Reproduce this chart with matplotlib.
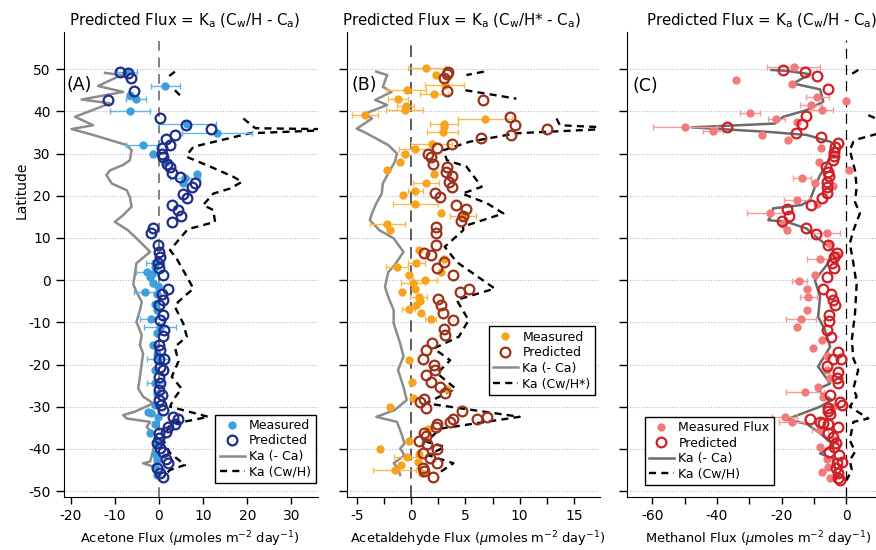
"""
Three-panel latitude profiles of measured vs predicted air-sea fluxes
(acetone, acetaldehyde, methanol).
"""
import numpy as np
import matplotlib
matplotlib.use("Agg")
import matplotlib.pyplot as plt
from matplotlib.ticker import MultipleLocator

plt.rcParams["axes.unicode_minus"] = False

nan = np.nan

# --------------------------------------------------------------------
# Panel A - acetone
# --------------------------------------------------------------------
A_meas_lat = [49.4, 46.0, 43.8, 42.9, 40.0, 37.0, 34.9, 32.0, 30.0, 28.0, 25.1, 24.1, 22.9,
              4.0, 3.0, 2.0, 1.5, 0.8, -0.8, -1.5, -2.8, -3.2, -5.6, -7.1, -9.1, -11.0, -12.6,
              -15.4, -17.4, -18.6, -21.3, -24.5, -26.9, -29.6, -31.2, -31.6, -32.4, -34.0,
              -36.3, -38.7, -41.1, -42.7, -44.2, -46.2]
A_meas_x = [-7.3, 1.4, -6.6, -5.2, -6.6, 6.3, 13.1, -3.7, -1.4, 1.7, 8.5, 5.9, 5.4,
            -0.9, -1.0, -2.8, -1.5, -2.0, -1.3, -0.3, -3.2, -0.5, -0.9, -0.5, -1.7, 0.2, -0.5,
            -1.3, -0.5, -0.2, -0.9, -0.9, -0.5, -0.9, -2.4, -1.7, -0.2, -0.9,
            -2.0, -0.5, -0.9, -0.5, -0.9, -0.5]
A_meas_err = [2.3, 3.3, 0, 2.3, 4.5, 6.5, 8.0, 3.8, 0, 1.0, 0, 3.4, 0,
              2.0, 0, 2.3, 0, 0, 0, 0, 2.5, 0, 0, 0, 2.5, 3.7, 0,
              0, 0, 2.5, 0, 1.7, 0, 0, 0, 0, 0, 0,
              0, 0, 0, 0, 0, 0]
A_pred_lat = [49.4, 49.0, 47.8, 44.8, 42.8, 38.5, 36.7, 35.9, 34.4, 33.4, 32.0, 31.2, 30.0,
              29.1, 27.6, 26.9, 25.4, 24.5, 23.1, 22.1, 20.5, 19.5, 17.8, 16.6, 15.2, 13.8,
              12.4, 11.1, 8.3, 6.7, 5.5, 4.0, 2.8, 1.2, -2.0, -3.2, -4.7, -5.9, -8.3, -9.5,
              -11.8, -13.3, -15.4, -16.6, -18.6, -18.6, -20.5, -21.3, -22.9, -24.5, -26.0,
              -27.3, -28.4, -29.6, -30.8, -32.4, -33.0, -34.0, -34.8, -36.0, -36.3, -37.5,
              -38.7, -39.9, -40.7, -42.3, -43.4, -44.6, -45.8, -46.6]
A_pred_x = [-8.8, -7.1, -6.4, -5.7, -11.5, 0.2, 6.1, 11.8, 3.6, 1.7, 2.5, 0.6, 0.6,
            1.0, 1.9, 2.5, 2.9, 4.8, 8.2, 7.4, 5.4, 6.4, 2.9, 4.2, 4.9, 2.9,
            -1.4, -1.7, -0.3, 0.0, 0.2, -0.2, 0.0, 1.0, 2.1, 0.6, 1.0, 0.0, 1.0, 0.2,
            1.1, 1.0, 0.0, 0.2, 0.0, 1.2, 0.2, 1.0, 0.0, 0.2, 0.0,
            0.6, 0.0, 0.4, 1.0, 3.2, 4.4, 3.6, 2.1, 1.7, 0.0, 0.0,
            -0.4, 0.2, 0.8, 1.7, 2.1, -0.5, 0.2, 1.0]
A_ca_lat = [49.1, 48.6, 46.0, 44.6, 42.8, 41.9, 38.7, 36.7, 35.8, 34.4, 32.0, 30.8, 28.4,
            27.3, 26.0, 24.9, 22.9, 21.3, 19.7, 17.4, 15.4, 13.8, 11.8, 9.1, 6.7, 4.0, -1.0,
            -2.8, -5.1, -7.1, -9.9, -13.0, -15.4, -17.4, -19.7, -22.9, -25.7, -27.6, -29.2,
            -31.2, -32.0, -32.8, -33.6, -34.8, -37.2, -38.7, -43.0, -43.4, -44.2, -46.2]
A_ca_x = [-12.2, -8.5, -13.8, -8.1, -17.5, -11.1, -19.0, -14.9, -19.8, -14.9, -7.3, -6.2, -6.6,
          -8.1, -11.1, -11.9, -10.7, -7.3, -6.6, -6.2, -8.1, -10.0, -7.0, -4.3, -2.0, -5.1, -5.8,
          -5.1, -3.9, -4.3, -5.1, -3.9, -4.3, -3.6, -3.9, -4.3, -4.7, -3.6, -1.3,
          -5.5, -8.1, -7.3, -2.0, -2.8, -0.5, -0.9, -2.0, -3.6, -1.3, -0.5]
A_cw_lat = [49.4, 48.2, nan, 45.0, 43.0, nan, 38.3, 36.0, 35.7, 34.8, 31.6, 30.0, 29.2, 26.9,
            24.5, 23.3, 21.7, 20.5, 17.8, 16.6, 13.8, 12.2, 11.8, 7.1, 5.1, -2.0, -5.1, -6.3,
            -10.3, -13.4, -15.8, -19.3, -22.9, -25.7, -28.4, -30.0, -32.4, -33.6, -34.0,
            -37.9, -39.5, -41.0, -43.8, -45.0, -46.6]
A_cw_x = [3.6, 2.1, nan, 3.6, 5.5, nan, 19.1, 21.8, 42.0, 20.6, 7.8, 6.6, 6.3, 11.6,
          16.8, 18.8, 16.1, 12.3, 10.0, 12.3, 12.7, 7.0, 6.3, 2.5, 4.0, 7.8, 4.4, 3.6,
          5.5, 6.3, 3.6, 4.4, 2.9, 5.1, 3.2, 2.5, 11.2, 5.5, 2.5,
          1.0, 1.7, 2.5, 5.9, 2.5, 1.0]

# --------------------------------------------------------------------
# Panel B - acetaldehyde
# --------------------------------------------------------------------
B_meas_lat = [50.2, 48.6, 46.2, 45.0, 44.2, 43.0, 41.2, 40.3, 39.1, 38.1, 37.1, 36.2, 35.2,
              32.2, 31.0, 30.0, 28.0, 26.2, 25.1, 23.1, 21.1, 20.1, 18.0, 16.0, 15.2, 13.3,
              11.8, 7.1, 4.9, 4.1, 3.2, 1.9, 1.2, 0.0, -0.8, -2.0, -2.9, -4.0, -4.9, -5.9,
              -6.9, -7.9, -9.1, -19.0, -24.1, -25.9, -28.0, -30.0, -35.2, -38.1, -40.0,
              -41.1, -41.9, -43.0, -43.8, -45.0, -45.8]
B_meas_x = [1.4, 2.3, 3.1, -0.4, 2.1, -1.2, -0.5, -0.6, -4.2, 6.8, 3.0, 3.0, 2.9,
            1.9, 0.4, -0.6, -1.0, -2.2, 2.1, 1.4, 0.4, -0.7, 0.4, 2.8, 4.8, -2.2,
            -1.9, 0.7, 3.0, 0.5, -1.3, 2.8, -0.2, 1.3, 0.2, 0.4, -0.8, 0.7, 0.8, 0.5,
            -0.2, 0.9, 1.8, -0.2, 0.1, 3.3, 0.2, -1.9, 1.6, -0.2, -2.9,
            0.7, -0.4, 0.6, -0.9, -1.5, 1.0]
B_meas_err = [1.7, 0, 1.8, 1.8, 1.3, 0.9, 0.8, 1.7, 1.2, 2.5, 1.3, 0, 1.4,
              1.9, 1.5, 0, 0, 0, 0, 1.2, 0.7, 0, 2.1, 0, 1.2, 1.6,
              0, 0, 0, 0.8, 1.0, 0, 0, 1.1, 1.1, 0, 0, 0.8, 0, 0,
              0.6, 0, 0.5, 0, 0, 0, 0, 0, 0, 0, 0,
              0, 1.2, 0, 0, 2.0, 0]
B_pred_lat = [49.4, 48.8, 47.8, 44.8, 42.8, 38.7, 36.7, 35.9, 34.4, 33.6, 32.2, 31.2, 29.9,
              29.1, 27.6, 26.9, 25.7, 24.6, 23.3, 22.1, 20.7, 19.6, 17.8, 16.8, 15.2, 14.0,
              12.5, 11.1, 8.3, 6.5, 5.9, 4.2, 2.9, 1.2, -2.0, -2.8, -4.5, -5.9, -7.9, -9.5,
              -11.7, -13.0, -15.0, -16.6, -18.6, -20.0, -21.2, -22.5, -24.1, -25.4, -26.7,
              -28.2, -29.0, -30.2, -31.0, -32.4, -33.0, -33.0, -33.6, -34.0, -34.9, -36.2,
              -36.9, -38.1, -38.9, -40.1, -40.9, -42.1, -43.3, -44.5, -45.3, -46.6]
B_pred_x = [3.4, 3.3, 3.0, 3.3, 6.6, 9.1, 9.6, 12.5, 9.2, 6.4, 3.8, 2.4, 1.6,
            1.8, 2.0, 3.3, 3.2, 3.8, 3.5, 3.8, 2.2, 2.7, 4.1, 5.1, 4.8, 4.6,
            2.3, 2.3, 2.3, 1.2, 1.8, 3.0, 2.4, 3.9, 5.3, 4.5, 2.5, 2.8, 2.9, 3.9,
            3.0, 3.1, 1.9, 1.4, 1.1, 2.1, 2.2, 1.4, 1.8, 2.7, 3.1,
            1.2, 0.8, 1.4, 4.7, 7.0, 6.1, 3.9, 3.6, 2.4, 2.3, 1.2,
            1.4, 0.7, 1.5, 2.4, 1.1, 1.7, 2.4, 1.1, 1.2, 2.0]
B_ca_lat = [49.4, 48.6, 45.8, 44.6, 42.7, 41.5, 39.5, 38.3, 35.9, 34.8, 32.0, 30.0, 28.0,
            25.3, 22.9, 20.5, 18.2, 15.8, 14.2, 11.8, 9.9, 6.7, 3.6, 1.9, -1.6, -4.0, -7.1,
            -10.3, -15.0, -18.1, -21.3, -25.3, -28.4, -30.8, -32.4, -33.6, -36.3, -38.7,
            -39.9, -41.5, -43.4, -44.6, -46.2]
B_ca_x = [-3.2, -2.2, -2.6, -1.8, -3.3, -2.2, -4.2, -3.6, -5.0, -4.1, -2.1, -1.3, -1.5,
          -2.1, -2.6, -2.7, -3.2, -3.6, -3.8, -2.9, -1.6, -0.7, -1.5, -2.1, -2.4, -2.1, -1.6,
          -1.6, -1.0, -0.7, -1.2, -0.7, -0.4, -1.5, -3.2, -1.3, -0.9, -0.6,
          -1.0, -0.6, -1.6, -1.2, -1.0]
B_cw_lat = [49.4, 48.6, nan, 45.0, 43.0, nan, 38.3, 36.7, 36.0, 34.8, 32.8, 30.8, 28.4, 26.9,
            22.1, 20.5, 18.2, 15.8, 12.7, 11.8, 7.9, 4.3, -2.0, -4.7, -9.5, -13.4, -16.2,
            -19.0, -22.1, -25.7, -29.2, -32.4, -35.2, -38.3, -39.5, -41.5, -43.4, -45.8]
B_cw_x = [6.7, 5.1, nan, 5.0, 9.7, nan, 13.4, 13.7, 19.5, 9.7, 5.4, 3.0, 3.3, 5.1,
          6.5, 4.7, 7.0, 8.5, 4.8, 4.8, 3.1, 4.2, 7.7, 4.2, 5.3, 4.4, 2.1,
          3.6, 2.4, 4.1, 1.4, 10.0, 2.7, 1.4, 3.1, 1.6, 3.9, 2.5]

# --------------------------------------------------------------------
# Panel C - methanol
# --------------------------------------------------------------------
C_meas_lat = [50.5, 47.4, 46.4, 43.5, 42.5, 41.5, 40.3, 39.5, 38.3, 37.5, 36.2, 35.4, 34.4,
              33.3, 31.2, 30.0, 28.0, 26.2, 24.2, 23.0, 22.3, 19.1, 18.0, 16.0, 13.4, 11.8,
              11.1, 8.5, 6.0, 4.9, 1.2, -0.2, -2.0, -4.0, -7.1, -9.1, -11.2, -14.2, -16.2,
              -18.0, -21.3, -23.3, -25.3, -26.4, -27.6, -30.0, -32.5, -33.6, -35.5, -38.0,
              -39.5, -42.3, -44.2, -45.4, -47.0]
C_meas_x = [-16.2, -34.1, -16.9, -9.0, -0.1, -11.0, -7.6, -29.8, -21.7, -15.3, -49.9, -41.3, -26.2,
            -18.1, -7.8, -4.5, -8.4, 0.9, -13.8, -9.7, -4.0, -15.3, -9.2, -23.6, -19.5, -18.4,
            -6.1, -5.0, -3.0, -8.1, -9.7, -14.5, -12.2, -11.8, -12.2, -14.0, -15.2, -7.6, -10.2,
            -6.0, -6.1, -5.0, -8.7, -12.8, -7.1, -4.0, -19.0, -16.9, -8.1, -3.5,
            -8.1, -6.1, -5.6, -7.6, -5.0]
C_meas_err = [8.2, 0, 0, 3.6, 0, 3.4, 3.6, 3.0, 2.6, 0, 9.8, 3.1, 0,
              0, 0, 0, 0, 0, 2.8, 0, 0, 4.1, 0, 7.0, 0, 0,
              4.1, 0, 0, 3.9, 0, 2.3, 0, 2.6, 0, 4.6, 0, 0, 0,
              0, 0, 0, 0, 5.9, 0, 0, 3.9, 3.9, 2.6, 0,
              0, 0, 0, 0, 0]
C_pred_lat = [49.8, 49.4, 48.3, 45.2, 38.9, 37.1, 36.2, 34.8, 33.8, 32.4, 31.5, 30.4, 29.4,
              28.4, 26.9, 25.7, 24.6, 23.3, 22.1, 20.7, 19.5, 17.8, 16.8, 15.2, 14.0, 12.4,
              10.9, 8.3, 6.5, 5.5, 4.0, 2.8, 0.8, -2.0, -3.2, -4.7, -5.9, -8.3, -9.6, -11.8,
              -13.4, -17.0, -18.6, -18.7, -20.4, -21.7, -23.3, -24.5, -27.3, -28.8, -29.6,
              -30.4, -31.0, -31.8, -33.0, -33.6, -33.8, -34.1, -34.7, -36.3, -37.1, -38.7,
              -39.5, -40.7, -41.5, -43.1, -43.4, -44.6, -45.8, -46.8, -47.4]
C_pred_x = [-19.5, -12.8, -9.0, -5.8, -12.6, -13.8, -37.0, -15.6, -7.8, -2.7, -3.5, -3.7, -3.7,
            -4.0, -6.4, -5.6, -5.3, -6.1, -6.1, -6.1, -7.6, -11.0, -18.4, -17.6, -20.0, -12.6,
            -9.4, -5.6, -3.0, -3.7, -4.4, -3.7, -5.9, -7.3, -4.8, -4.0, -3.5, -5.3, -5.3, -6.1,
            -4.8, -2.5, -4.0, -1.7, -6.1, -2.5, -2.8, -2.5, -5.0, -1.9, -1.4,
            -5.6, -5.6, -5.0, -11.2, -8.1, -7.1, -5.6, -2.5, -5.6, -4.0, -3.2,
            -3.8, -5.3, -2.2, -1.4, -3.0, -3.2, -2.5, -2.5, -1.9]
C_ca_lat = [49.8, 49.6, 48.8, 46.6, 45.2, 42.3, 40.3, 38.7, 37.1, 36.2, 35.1, 34.4, 32.8,
            32.0, 29.2, 27.3, 24.9, 22.1, 19.0, 17.8, 17.0, 15.4, 14.2, 13.8, 12.2, 11.4,
            9.5, 7.1, 4.0, 0.0, -4.0, -8.7, -11.8, -15.8, -20.5, -24.5, -26.0, -28.4, -30.0,
            -33.0, -34.1, -36.3, -39.1, -41.1, -42.3, -46.6]
C_ca_x = [-23.1, -18.4, -11.2, -16.4, -8.1, -7.1, -12.2, -19.5, -22.1, -47.8, -23.6, -12.2, -5.0,
          -3.5, -5.0, -6.1, -8.1, -9.7, -11.2, -13.8, -22.6, -23.1, -24.1, -18.4, -12.2, -11.2,
          -8.1, -4.0, -5.6, -9.7, -8.1, -8.7, -6.6, -5.0, -8.7, -5.0, -9.2, -4.5, -8.1,
          -18.4, -12.2, -8.1, -4.0, -8.1, -4.0, -3.0]
C_cw_lat = [49.8, 48.6, nan, 39.1, 36.0, 33.5, 32.8, 30.8, 26.0, 22.1, 18.5, 15.8, 11.8, 8.7,
            4.0, -1.0, -7.9, -14.2, -18.6, -21.3, -25.7, -27.6, -30.0, -32.8, -33.6, -37.9,
            -40.7, -42.7, -45.0, -47.4]
C_cw_x = [3.7, 1.1, nan, 6.8, 16.0, 4.0, 2.2, 1.1, 2.7, 3.2, 2.7, 4.2, 2.2, 1.1,
          2.2, 3.2, 2.7, 1.7, 2.2, 3.7, 2.2, 3.2, 1.1, 6.8, 2.2, 1.1,
          2.7, 1.1, 1.7, 0.1]

LAT_TICKS = [-50, -40, -30, -20, -10, 0, 10, 20, 30, 40, 50]
YLIM = (-51.4, 58.8)

MATH_UNITS = r"($\mu$moles m$^{\mathregular{-2}}$ day$^{\mathregular{-1}}$)"
LABEL_SIZE = 9.4


def _draw_panel(ax, meas, pred, ca, cw, colors, zero_style, legend_labels, legend_kw):
    m_lat, m_x, m_err = meas
    p_lat, p_x = pred
    c_meas, c_err, c_pred, c_gray = colors

    # light dotted grid at each latitude tick
    for lat in LAT_TICKS:
        ax.axhline(lat, color="#b4b4dc", lw=0.8, ls=(0, (1, 1.5)), zorder=0)

    # zero reference
    ax.plot([0, 0], [YLIM[0], 57], zorder=1, **zero_style)

    ax.plot(ca[1], ca[0], color=c_gray, lw=1.8, zorder=2, label=legend_labels[2])
    ax.plot(cw[1], cw[0], color="black", lw=1.7, dashes=(3.0, 2.2), zorder=2,
            label=legend_labels[3])

    ax.errorbar(m_x, m_lat, xerr=m_err, fmt="none", ecolor=c_err, elinewidth=1.0,
                capsize=2.5, capthick=1.0, zorder=3)
    ax.plot(m_x, m_lat, "o", color=c_meas, ms=6, mec="none", zorder=4,
            label=legend_labels[0])
    ax.plot(p_x, p_lat, "o", mfc="none", mec=c_pred, ms=7, mew=1.6, zorder=5,
            label=legend_labels[1])

    ax.set_ylim(*YLIM)
    ax.set_yticks(LAT_TICKS)
    ax.spines["top"].set_visible(False)
    ax.spines["right"].set_visible(False)
    ax.tick_params(axis="y", direction="out", length=6, width=1, labelsize=10)
    ax.tick_params(axis="x", which="both", direction="out", length=5, width=1, labelsize=10)

    handles, labels = ax.get_legend_handles_labels()
    order = [labels.index(l) for l in legend_labels]
    leg = ax.legend([handles[i] for i in order], [labels[i] for i in order],
                    fontsize=9, frameon=True, fancybox=False, framealpha=1,
                    edgecolor="black", handlelength=2.0, borderpad=0.35,
                    labelspacing=0.2, handletextpad=0.35, borderaxespad=0.2, **legend_kw)
    leg.get_frame().set_linewidth(1.0)
    return ax


def main():
    fig = plt.figure(figsize=(8.76, 5.5), dpi=100)
    bottom = 1 - 497 / 550
    height = (497 - 32) / 550
    ax_a = fig.add_axes([64 / 876, bottom, 254 / 876, height])
    ax_b = fig.add_axes([347 / 876, bottom, 253 / 876, height])
    ax_c = fig.add_axes([627 / 876, bottom, 250 / 876, height])

    # A - acetone
    _draw_panel(ax_a,
                (A_meas_lat, A_meas_x, A_meas_err), (A_pred_lat, A_pred_x),
                (A_ca_lat, A_ca_x), (A_cw_lat, A_cw_x),
                ("#3d9fdc", "#62b4ea", "#1f2d8a", "#8c8c8c"),
                dict(color="#808080", lw=1.4, dashes=(5, 3.5)),
                ["Measured", "Predicted", "Ka (- Ca)", "Ka (Cw/H)"],
                dict(loc="lower right", bbox_to_anchor=(1.0, 0.025)))
    ax_a.set_xlim(-21.5, 36.0)
    ax_a.set_xticks([-20, -10, 0, 10, 20, 30])
    ax_a.text(-20.9, 46.2, "(A)", fontsize=12.5, va="center", ha="left")

    # B - acetaldehyde
    _draw_panel(ax_b,
                (B_meas_lat, B_meas_x, B_meas_err), (B_pred_lat, B_pred_x),
                (B_ca_lat, B_ca_x), (B_cw_lat, B_cw_x),
                ("#f7a41c", "#f8b94e", "#9e311c", "#8c8c8c"),
                dict(color="#404040", lw=1.2, dashes=(7, 4)),
                ["Measured", "Predicted", "Ka (- Ca)", "Ka (Cw/H*)"],
                dict(loc="lower right", bbox_to_anchor=(0.99, 0.215)))
    ax_b.set_xlim(-5.9, 17.4)
    ax_b.set_xticks([-5, 0, 5, 10, 15])
    ax_b.xaxis.set_minor_locator(MultipleLocator(2.5))
    ax_b.set_yticklabels([])
    ax_b.text(-5.5, 46.2, "(B)", fontsize=12.5, va="center", ha="left")

    # C - methanol
    _draw_panel(ax_c,
                (C_meas_lat, C_meas_x, C_meas_err), (C_pred_lat, C_pred_x),
                (C_ca_lat, C_ca_x), (C_cw_lat, C_cw_x),
                ("#f27a7a", "#f49c9c", "#d01f26", "#6a6a6a"),
                dict(color="black", lw=0.9, dashes=(8, 5)),
                ["Measured Flux", "Predicted", "Ka (- Ca)", "Ka (Cw/H)"],
                dict(loc="lower left", bbox_to_anchor=(0.06, 0.02)))
    ax_c.set_xlim(-67.8, 9.5)
    ax_c.set_xticks([-60, -40, -20, 0])
    ax_c.xaxis.set_minor_locator(MultipleLocator(10))
    ax_c.tick_params(axis="x", which="minor", length=5)
    ax_c.set_yticklabels([])
    ax_c.text(-66.0, 46.0, "(C)", fontsize=12.5, va="center", ha="left")

    # axis labels placed in figure pixels to match the reference layout
    x_labels = [("Acetone Flux ", 190), ("Acetaldehyde Flux ", 478), ("Methanol Flux ", 758)]
    for name, xc in x_labels:
        fig.text(xc / 876, 1 - 539 / 550, name + MATH_UNITS, ha="center", va="center",
                 fontsize=LABEL_SIZE)

    fig.text(22 / 876, 1 - 190 / 550, "Latitude", rotation=90, ha="center", va="center",
             fontsize=10)

    title_a = r"Predicted Flux = K$_\mathregular{a}$ (C$_\mathregular{w}$/H - C$_\mathregular{a}$)"
    title_b = r"Predicted Flux = K$_\mathregular{a}$ (C$_\mathregular{w}$/H* - C$_\mathregular{a}$)"
    fig.text(185 / 876, 1 - 21 / 550, title_a, ha="center", va="center", fontsize=10.8)
    fig.text(461 / 876, 1 - 21 / 550, title_b, ha="center", va="center", fontsize=10.8)
    fig.text(762 / 876, 1 - 21 / 550, title_a, ha="center", va="center", fontsize=10.8)

    fig.savefig("out.png", dpi=100)
    plt.close(fig)


if __name__ == "__main__":
    main()
